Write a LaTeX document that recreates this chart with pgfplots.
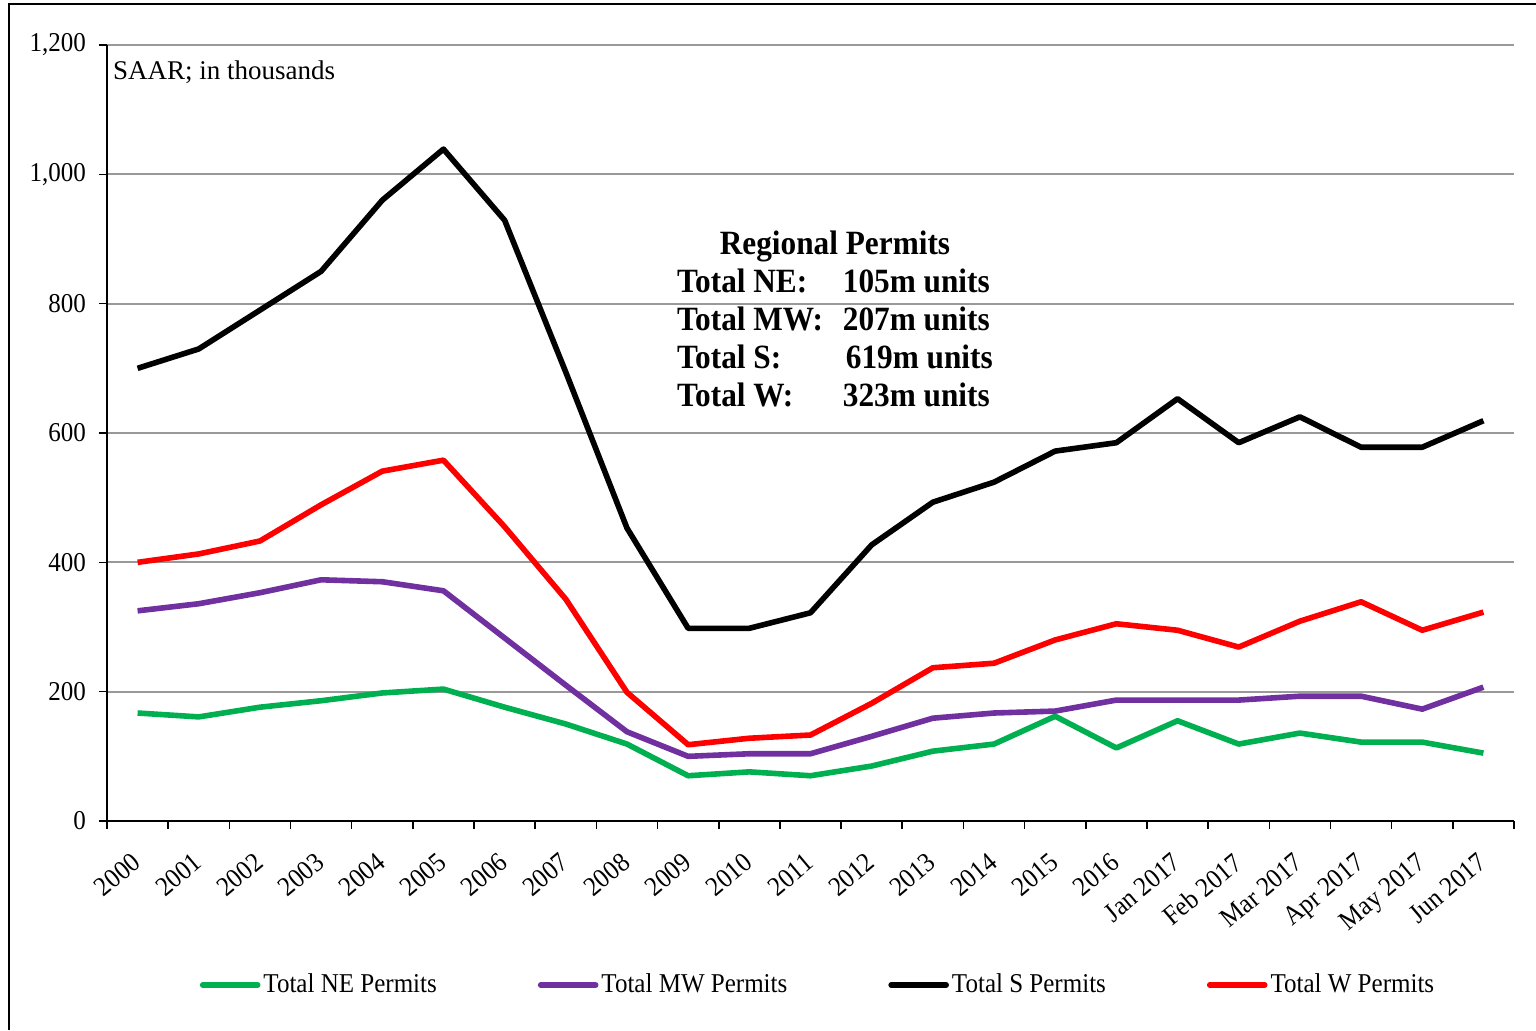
\documentclass[border=0pt]{standalone}
\usepackage{fontspec}
\setmainfont{Liberation Serif}[FakeStretch=0.92]
\newfontfamily\plainserif{Liberation Serif}
\usepackage{pgfplots}
\pgfplotsset{compat=1.18}
\definecolor{cNE}{RGB}{0,176,80}
\definecolor{cMW}{RGB}{112,48,160}
\definecolor{cS}{RGB}{0,0,0}
\definecolor{cW}{RGB}{255,0,0}
\begin{document}
\begin{tikzpicture}
\useasboundingbox (-53.5pt,-104.5pt) rectangle (714.5pt,410.5pt);
\fill[white] (-53.5pt,-104.5pt) rectangle (714.5pt,410.5pt);
\draw[line width=1.2pt] (-49pt,-104.5pt) -- (-49pt,408.5pt) -- (714.5pt,408.5pt);
\begin{axis}[
  scale only axis,
  width=703.5pt, height=388pt,
  xmin=-0.5, xmax=22.5,
  ymin=0, ymax=1200,
  axis x line*=bottom, axis y line*=left,
  axis line style={line width=1pt, black},
  ytick={0,200,...,1200},
  ymajorgrids,
  major grid style={gray!80, line width=1pt},
  tick align=outside,
  major tick length=4pt,
  tick style={black, line width=0.8pt},
  xtick={-0.5,0.5,...,22.5},
  xticklabels={},
  extra x ticks={0,1,...,22},
  extra x tick labels={2000,2001,2002,2003,2004,2005,2006,2007,2008,2009,2010,2011,2012,2013,2014,2015,2016,Jan 2017,Feb 2017,Mar 2017,Apr 2017,May 2017,Jun 2017},
  extra x tick style={major tick length=0pt, xticklabel style={rotate=40, anchor=north east, xshift=-9pt, yshift=-6pt}},
  ticklabel style={font=\fontsize{13.6}{15}\selectfont},
  /pgf/number format/assume math mode=true,
  /pgf/number format/1000 sep={,},
  yticklabel style={xshift=-3pt},
  legend columns=4,
  legend style={at={(0.5057,-0.2113)}, anchor=center, draw=none, fill=none,
    font=\fontsize{13.6}{15}\selectfont,
    /tikz/every even column/.append style={column sep=49pt},
    nodes={inner sep=1.5pt}},
  legend image code/.code={\draw[#1, line cap=round] (0pt,0pt) -- (27.5pt,0pt);},
  every axis plot/.append style={line width=2.8pt, line join=round},
]
\addplot[cNE] coordinates {(0,167)(1,161)(2,176)(3,186)(4,198)(5,204)(6,176)(7,150)(8,119)(9,70)(10,76)(11,70)(12,85)(13,108)(14,119)(15,162)(16,113)(17,155)(18,119)(19,136)(20,122)(21,122)(22,105)};
\addlegendentry{Total NE Permits}
\addplot[cMW] coordinates {(0,325)(1,336)(2,353)(3,373)(4,370)(5,356)(6,283)(7,210)(8,138)(9,100)(10,104)(11,104)(12,131)(13,159)(14,167)(15,170)(16,187)(17,187)(18,187)(19,193)(20,193)(21,173)(22,207)};
\addlegendentry{Total MW Permits}
\addplot[cS] coordinates {(0,700)(1,730)(2,790)(3,850)(4,960)(5,1039)(6,929)(7,694)(8,453)(9,298)(10,298)(11,322)(12,427)(13,493)(14,524)(15,572)(16,585)(17,653)(18,585)(19,625)(20,578)(21,578)(22,619)};
\addlegendentry{Total S Permits}
\addplot[cW] coordinates {(0,400)(1,413)(2,433)(3,489)(4,541)(5,558)(6,455)(7,343)(8,199)(9,118)(10,128)(11,133)(12,182)(13,237)(14,244)(15,280)(16,305)(17,295)(18,269)(19,309)(20,339)(21,295)(22,323)};
\addlegendentry{Total W Permits}
\node[anchor=west, inner sep=0pt, font=\plainserif\fontsize{13.5}{15}\selectfont] at (axis description cs:0.004,0.965) {SAAR; in thousands};
\node[anchor=center, inner sep=0pt, font=\fontsize{17}{19}\selectfont\bfseries] at (axis description cs:0.5174,0.6417) {%
\begin{tabular}{@{}l@{\hspace{10pt}}l@{}}
\multicolumn{2}{c}{Regional Permits}\\
Total NE: & 105m units\\
Total MW: & 207m units\\
Total S: & \hspace{1.5pt}619m units\\
Total W: & 323m units
\end{tabular}};
\end{axis}
\end{tikzpicture}
\end{document}
